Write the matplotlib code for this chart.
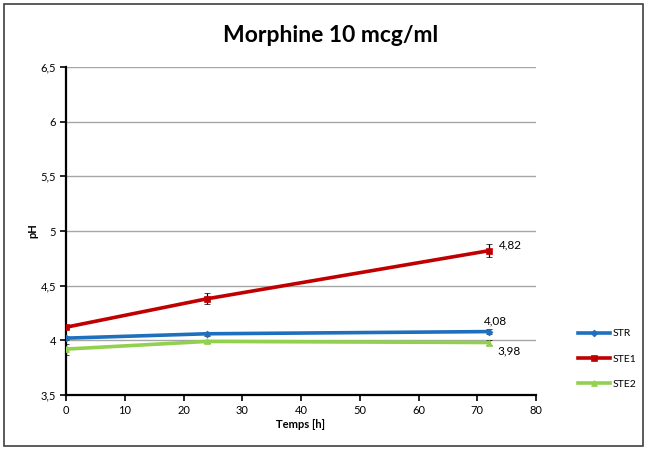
import matplotlib
matplotlib.use("Agg")
import matplotlib.pyplot as plt
from matplotlib.patches import Rectangle
from matplotlib.lines import Line2D
from matplotlib.ticker import FuncFormatter

plt.rcParams['font.family'] = ['Lato', 'DejaVu Sans']

# Measurements
hours = [0, 24, 72]
str_ph = [4.02, 4.06, 4.08]
ste1_ph = [4.12, 4.38, 4.82]
ste2_ph = [3.92, 3.99, 3.98]
str_err = [0.02, 0.02, 0.02]
ste1_err = [0.02, 0.05, 0.06]
ste2_err = [0.05, 0.01, 0.02]
series_names = ["STR", "STE1", "STE2"]
x_ticks = [0, 10, 20, 30, 40, 50, 60, 70, 80]
y_ticks = [3.5, 4, 4.5, 5, 5.5, 6, 6.5]

fig = plt.figure(figsize=(6.48, 4.5), dpi=100)
fig.patches.append(Rectangle((4 / 648, 4 / 450), 639 / 648, 442 / 450,
                             transform=fig.transFigure, fill=False,
                             edgecolor='#404040', linewidth=1.2))

ax = fig.add_axes([66 / 648, 55 / 450, 470 / 648, 328 / 450])

styles = [
    (str_ph, str_err, '#1F6FBF', 'D', 3.5),
    (ste1_ph, ste1_err, '#C00000', 's', 5),
    (ste2_ph, ste2_err, '#92D050', '^', 4.5),
]
handles = []
for (vals, errs, color, marker, ms), name in zip(styles, series_names):
    ax.errorbar(hours, vals, yerr=errs, color=color, linewidth=2.6,
                marker=marker, markersize=ms, markeredgewidth=0.5,
                ecolor='black', elinewidth=0.9, capsize=2.5, capthick=0.9,
                zorder=3)
    handles.append(Line2D([], [], color=color, linewidth=2.6, marker=marker,
                          markersize=ms, markeredgewidth=0.5, label=name))

ax.set_xlim(0, 80)
ax.set_ylim(3.5, 6.5)
ax.set_xticks(x_ticks)
ax.set_yticks(y_ticks)
ax.yaxis.set_major_formatter(FuncFormatter(lambda v, p: f"{v:g}".replace('.', ',')))
ax.grid(axis='y', color='#a6a6a6', linewidth=1.0, zorder=0)
ax.set_axisbelow(True)
for s in ['top', 'right']:
    ax.spines[s].set_visible(False)
for s in ['left', 'bottom']:
    ax.spines[s].set_linewidth(1.6)
ax.tick_params(direction='out', length=4, width=1.2, labelsize=8, pad=3)

ax.set_xlabel("Temps [h]", fontsize=8, fontweight='bold', labelpad=2)
ax.set_ylabel("pH", fontsize=8, fontweight='bold', labelpad=2)

# Value labels at the last time point
ax.annotate(f"{ste1_ph[-1]:.2f}".replace('.', ','), (hours[-1], ste1_ph[-1]),
            xytext=(7, 0), textcoords='offset points', fontsize=8.5, va='bottom')
ax.annotate(f"{str_ph[-1]:.2f}".replace('.', ','), (hours[-1], str_ph[-1]),
            xytext=(-4, 4), textcoords='offset points', fontsize=8.5, va='bottom')
ax.annotate(f"{ste2_ph[-1]:.2f}".replace('.', ','), (hours[-1], ste2_ph[-1]),
            xytext=(6, -2), textcoords='offset points', fontsize=8.5, va='top')

fig.text(331 / 648, 1 - 36 / 450, "Morphine 10 mcg/ml", ha='center', va='center',
         fontsize=16.5, fontweight='bold')

fig.legend(handles=handles, loc='center left',
           bbox_to_anchor=(569 / 648, 1 - 359 / 450), frameon=False,
           fontsize=7.5, handlelength=3.0, labelspacing=1.55, handletextpad=0.3)

fig.savefig("out.png", dpi=100)
